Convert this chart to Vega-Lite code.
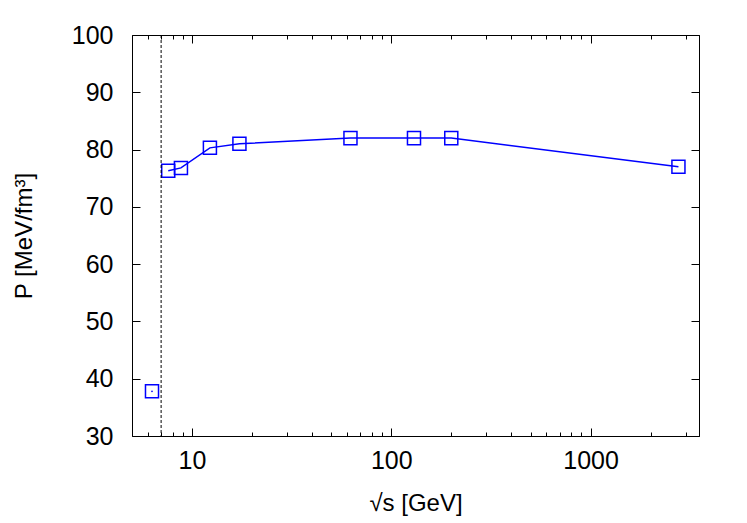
{
  "$schema": "https://vega.github.io/schema/vega-lite/v6.json",
  "width": 567,
  "height": 401,
  "autosize": {"type": "none"},
  "padding": {"left": 132, "top": 35, "right": 48, "bottom": 87},
  "background": "white",
  "config": {
    "view": {"stroke": null},
    "font": "Liberation Sans",
    "axis": {
      "grid": false,
      "domainColor": "black",
      "domainWidth": 1,
      "tickColor": "black",
      "tickWidth": 1,
      "labelFont": "Liberation Sans",
      "labelFontSize": 25,
      "labelColor": "black",
      "titleFont": "Liberation Sans",
      "titleFontSize": 24,
      "titleFontWeight": "normal",
      "titleColor": "black"
    }
  },
  "data": {
    "values": [
      {"s": 6.3, "P": 37.8},
      {"s": 7.6, "P": 76.3},
      {"s": 8.8, "P": 76.8},
      {"s": 12.3, "P": 80.3},
      {"s": 17.3, "P": 81.0},
      {"s": 62.4, "P": 82.0},
      {"s": 130, "P": 82.0},
      {"s": 200, "P": 82.0},
      {"s": 2760, "P": 77.0}
    ]
  },
  "layer": [
    {
      "transform": [{"filter": "datum.s > 7"}],
      "mark": {"type": "line", "color": "#0000ff", "strokeWidth": 1.5},
      "encoding": {
        "x": {
          "field": "s", "type": "quantitative",
          "scale": {"type": "log", "domain": [5, 3500], "nice": false},
          "axis": {"orient": "bottom", "values": [10, 100, 1000], "format": "d", "tickSize": -8, "labelPadding": 20, "title": "√s [GeV]", "titlePadding": 18, "labelFlush": false}
        },
        "y": {
          "field": "P", "type": "quantitative",
          "scale": {"domain": [30, 100], "nice": false, "zero": false},
          "axis": {"orient": "left", "values": [30, 40, 50, 60, 70, 80, 90, 100], "tickSize": -8, "labelPadding": 27, "title": "P [MeV/fm³]", "titlePadding": 35}
        }
      }
    },
    {
      "mark": {"type": "point", "shape": "square", "filled": false, "color": "#0000ff", "strokeWidth": 1.5, "size": 170, "opacity": 1},
      "encoding": {
        "x": {
          "field": "s", "type": "quantitative",
          "scale": {"type": "log", "domain": [5, 3500], "nice": false},
          "axis": {"orient": "bottom", "values": [6, 7, 8, 9, 20, 30, 40, 50, 60, 70, 80, 90, 200, 300, 400, 500, 600, 700, 800, 900, 2000, 3000], "labels": false, "tickSize": -4, "title": null}
        },
        "y": {
          "field": "P", "type": "quantitative",
          "scale": {"domain": [30, 100], "nice": false, "zero": false},
          "axis": {"orient": "right", "values": [30, 40, 50, 60, 70, 80, 90, 100], "labels": false, "tickSize": -8, "title": null}
        }
      }
    },
    {
      "data": {"values": [{"s": 7}]},
      "mark": {"type": "rule", "color": "black", "strokeWidth": 1, "strokeDash": [3, 2]},
      "encoding": {
        "x": {
          "field": "s", "type": "quantitative",
          "scale": {"type": "log", "domain": [5, 3500], "nice": false},
          "axis": {"orient": "top", "values": [10, 100, 1000], "labels": false, "tickSize": -8, "title": null}
        }
      }
    },
    {
      "transform": [{"filter": "datum.s < 7"}],
      "mark": {"type": "point", "shape": "circle", "filled": true, "color": "#0000ff", "size": 3, "opacity": 1},
      "encoding": {
        "x": {
          "field": "s", "type": "quantitative",
          "scale": {"type": "log", "domain": [5, 3500], "nice": false},
          "axis": {"orient": "top", "values": [6, 7, 8, 9, 20, 30, 40, 50, 60, 70, 80, 90, 200, 300, 400, 500, 600, 700, 800, 900, 2000, 3000], "labels": false, "tickSize": -4, "title": null}
        },
        "y": {
          "field": "P", "type": "quantitative",
          "scale": {"domain": [30, 100], "nice": false, "zero": false},
          "axis": null
        }
      }
    }
  ],
  "resolve": {"axis": {"x": "independent", "y": "independent"}}
}
